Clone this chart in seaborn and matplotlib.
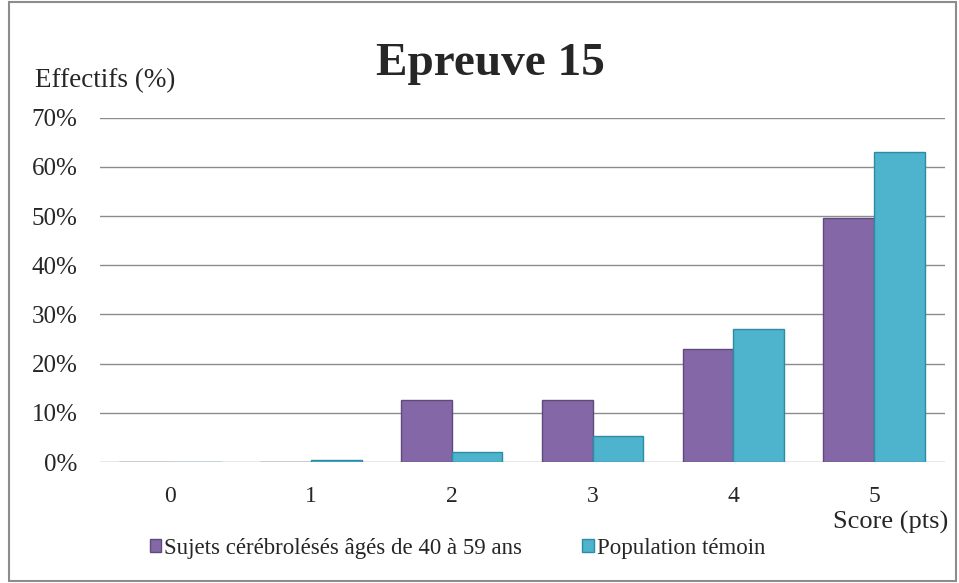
import numpy as np
import pandas as pd
import matplotlib
matplotlib.use("Agg")
import matplotlib.pyplot as plt
import seaborn as sns
from matplotlib.patches import Rectangle

sns.set_theme(style="white")
plt.rcParams["font.family"] = ["Liberation Serif", "DejaVu Serif"]

# data
scores = ["0", "1", "2", "3", "4", "5"]
patients = [0.0, 0.0, 12.7, 12.7, 23.0, 49.7]
controls = [0.0, 0.4, 2.1, 5.2, 27.0, 63.0]
series = ["Sujets cérébrolésés âgés de 40 à 59 ans", "Population témoin"]
yticks = [0, 10, 20, 30, 40, 50, 60, 70]

palette = ["#8467a6", "#4eb3cd"]
edges = ["#5f4a7d", "#2f8aa3"]

df = pd.DataFrame({
    "Score": scores * 2,
    "Effectifs": patients + controls,
    "Groupe": [series[0]] * len(scores) + [series[1]] * len(scores),
})

fig = plt.figure(figsize=(9.59, 5.83), dpi=100)
ax = fig.add_axes([0.1038, 0.2075, 0.8812, 0.5905])

sns.barplot(df, x="Score", y="Effectifs", hue="Groupe", order=scores,
            hue_order=series, palette=palette, width=0.72, gap=0,
            saturation=1, ax=ax, zorder=3, legend=False)

# darker edge on bars
for cont, ec in zip(ax.containers, edges):
    for bar in cont:
        bar.set_edgecolor(ec)
        bar.set_linewidth(1.0)

ax.set_ylim(0, 70)
ax.set_xlim(-0.5, 5.5)
ax.set_yticks(yticks)
ax.set_yticklabels([f"{t}%" for t in yticks], fontsize=18)
ax.tick_params(axis="x", labelsize=17, pad=17, length=0)
ax.tick_params(axis="y", pad=16, length=0)
ax.grid(axis="y", color="#8c8c8c", linewidth=1.0, zorder=0)
for s in ax.spines.values():
    s.set_visible(False)
ax.set_xlabel("")
ax.set_ylabel("")

# titles / axis captions
fig.text(0.511, 0.871, "Epreuve 15", ha="center", va="baseline",
         fontsize=34, fontweight="bold")
fig.text(0.036, 0.851, "Effectifs (%)", ha="left", va="baseline", fontsize=19.5)
fig.text(0.989, 0.094, "Score (pts)", ha="right", va="baseline", fontsize=19)

# legend under the plot
handles = [Rectangle((0, 0), 1, 1, facecolor=c, edgecolor=e)
           for c, e in zip(palette, edges)]
fig.legend(handles, series, loc="center", bbox_to_anchor=(0.477, 0.06),
           ncol=2, frameon=False, fontsize=16.5, handlelength=0.5,
           handleheight=0.5, handletextpad=0.15, columnspacing=2.6)

# grey frame around the whole chart
fig.patches.append(Rectangle((0.009, 0.003), 0.988, 0.994,
                             transform=fig.transFigure, fill=False,
                             edgecolor="#8c8c8c", linewidth=1.5))

fig.savefig("out.png", dpi=100)
